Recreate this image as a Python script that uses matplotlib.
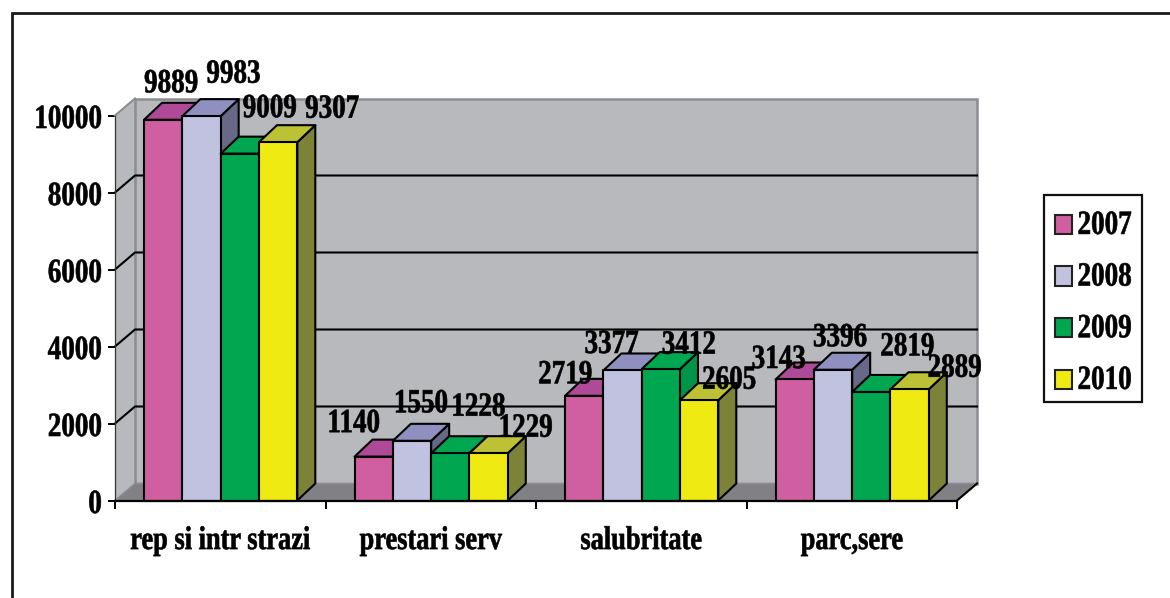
import matplotlib
matplotlib.use("Agg")
import matplotlib.patheffects as pe
import matplotlib.pyplot as plt
from matplotlib.lines import Line2D
from matplotlib.patches import Patch, Polygon, Rectangle
from matplotlib.transforms import Affine2D, ScaledTranslation

categories = ["rep si intr strazi", "prestari serv", "salubritate", "parc,sere"]
years = ["2007", "2008", "2009", "2010"]
v2007 = [9889, 1140, 2719, 3143]
v2008 = [9983, 1550, 3377, 3396]
v2009 = [9009, 1228, 3412, 2819]
v2010 = [9307, 1229, 2605, 2889]
y_ticks = [0, 2000, 4000, 6000, 8000, 10000]

front_cols = ["#CF5FA0", "#C1C1E0", "#00A650", "#EEEA12"]
top_cols = ["#AE4A98", "#9090C0", "#00A650", "#BCC234"]
side_cols = ["#8D4A7C", "#686888", "#009448", "#7C8238"]
wall_col = "#B8B9BD"
floor_col = "#808085"
edge_grey = "#8C8C92"

# label shifts from the bar top, pixels (dx, dy up)
label_shift = [
    [(8, 34), (32, 40), (30, 43), (54, 31)],
    [(-20, 31), (9, 35), (28, 44), (37, 23)],
    [(-19, 19), (-11, 24), (28, 22), (30, 18)],
    [(-16, 18), (7, 30), (36, 43), (45, 19)],
]

W, H = 1170, 598
bar_w = 0.182
gap = 0.138
depth_x = 20 / 210.5
depth_y = 17 / 0.0385
bar_dx = 18 / 210.5


class Stretch(pe.AbstractPathEffect):
    # the original text is taller than Times, stretch glyphs upward
    def draw_path(self, renderer, gc, tpath, affine, rgbFace=None):
        gc.set_linewidth(0.45)
        renderer.draw_path(gc, tpath, Affine2D().scale(1, 1.25) + affine, rgbFace)


def style(txt, size=19.5):
    txt.set_fontfamily("Liberation Serif")
    txt.set_fontweight("bold")
    txt.set_fontsize(size)
    txt.set_color("black")
    txt.set_path_effects([Stretch()])


fig = plt.figure(figsize=(W / 100, H / 100), dpi=100)
# only the top and left of the outer frame are inside the picture
fig.add_artist(Line2D([12 / W, 12 / W, 1], [0, 1 - 13 / H, 1 - 13 / H], transform=fig.transFigure,
                      color="#1a1a1a", lw=2, solid_joinstyle="miter"))

ax = fig.add_axes([115 / W, 1 - 500.5 / H, 842 / W, 385 / H])
ax.set_xlim(0, 4)
ax.set_ylim(0, 10000)
ax.patch.set_visible(False)

top = 10000 + depth_y
# walls and floor
ax.add_patch(Polygon([(0, 0), (depth_x, depth_y), (depth_x, top), (0, 10000)], fc=wall_col, ec="none",
                     clip_on=False, zorder=1))
ax.add_patch(Polygon([(depth_x, depth_y), (4 + depth_x, depth_y), (4 + depth_x, top), (depth_x, top)],
                     fc=wall_col, ec=edge_grey, lw=1.8, clip_on=False, zorder=1))
ax.add_patch(Polygon([(0, 0), (depth_x, depth_y), (4 + depth_x, depth_y), (4, 0)], fc=floor_col, ec=edge_grey,
                     lw=1.2, clip_on=False, zorder=1.5))
ax.plot([4, 4 + depth_x], [0, depth_y], color="black", lw=1.5, clip_on=False, zorder=1.6)
ax.plot([0, depth_x, depth_x], [10000, top, top], color=edge_grey, lw=1.5, clip_on=False, zorder=1.6)

for t in y_ticks[1:-1]:
    ax.plot([0, depth_x, 4 + depth_x], [t, t + depth_y, t + depth_y], color="black", lw=1.5,
            clip_on=False, zorder=2)

series = [v2007, v2008, v2009, v2010]
z = 3
for g in range(len(categories)):
    for k, vals in enumerate(series):
        v = vals[g]
        x0 = g + gap + k * bar_w
        x1 = x0 + bar_w
        ax.add_patch(Polygon([(x1, 0), (x1 + bar_dx, depth_y), (x1 + bar_dx, v + depth_y), (x1, v)],
                             fc=side_cols[k], ec="black", lw=1.5, clip_on=False, zorder=z, joinstyle="round"))
        ax.add_patch(Polygon([(x0, v), (x0 + bar_dx, v + depth_y), (x1 + bar_dx, v + depth_y), (x1, v)],
                             fc=top_cols[k], ec="black", lw=1.5, clip_on=False, zorder=z, joinstyle="round"))
        ax.add_patch(Rectangle((x0, 0), bar_w, v, fc=front_cols[k], ec="black", lw=1.5, clip_on=False,
                               zorder=z, joinstyle="round"))
        z += 0.01

for g in range(len(categories)):
    for k, vals in enumerate(series):
        dx, dy = label_shift[g][k]
        t = ax.annotate(str(vals[g]), (g + gap + (k + 0.5) * bar_w, vals[g]), xytext=(dx * 0.72, dy * 0.72),
                        textcoords="offset points", ha="center", va="center", zorder=10, annotation_clip=False)
        style(t)

for s in ["top", "right"]:
    ax.spines[s].set_visible(False)
ax.spines["left"].set_linewidth(0.9)
ax.spines["left"].set_color("#333333")
ax.spines["bottom"].set_linewidth(1.6)
ax.spines["left"].set_zorder(2.5)
ax.spines["bottom"].set_zorder(9)

ax.set_yticks(y_ticks)
ax.set_xticks(range(5))
ax.set_xticklabels([])
ax.set_xticks([g + 0.5 for g in range(4)], categories, minor=True)
ax.tick_params(axis="y", length=5, width=1.4, pad=4.5)
ax.tick_params(axis="x", which="major", length=5.5, width=1.4)
ax.tick_params(axis="x", which="minor", length=0, pad=22)
down = ScaledTranslation(0, -3 / 100, fig.dpi_scale_trans)
for t in ax.get_yticklabels():
    style(t)
    t.set_transform(t.get_transform() + down)
for t in ax.get_xticklabels(minor=True):
    style(t, 19)

fig.add_artist(Rectangle((1044 / W, 1 - 402 / H), 98 / W, 207 / H, transform=fig.transFigure,
                         fc="white", ec="#111111", lw=1.6))
handles = [Patch(fc=c, ec="#222222", lw=1.5) for c in front_cols]
leg = fig.legend(handles, years, loc="upper left", bbox_to_anchor=(1038 / W, 1 - 198 / H), frameon=False,
                 prop={"family": "Liberation Serif", "weight": "bold", "size": 19.5},
                 handlelength=0.62, handleheight=0.72, handletextpad=0.22, labelspacing=0.98, borderpad=0.62,
                 borderaxespad=0)
leg.set_zorder(5)
for t in leg.get_texts():
    style(t)

fig.savefig("out.png", dpi=100)
